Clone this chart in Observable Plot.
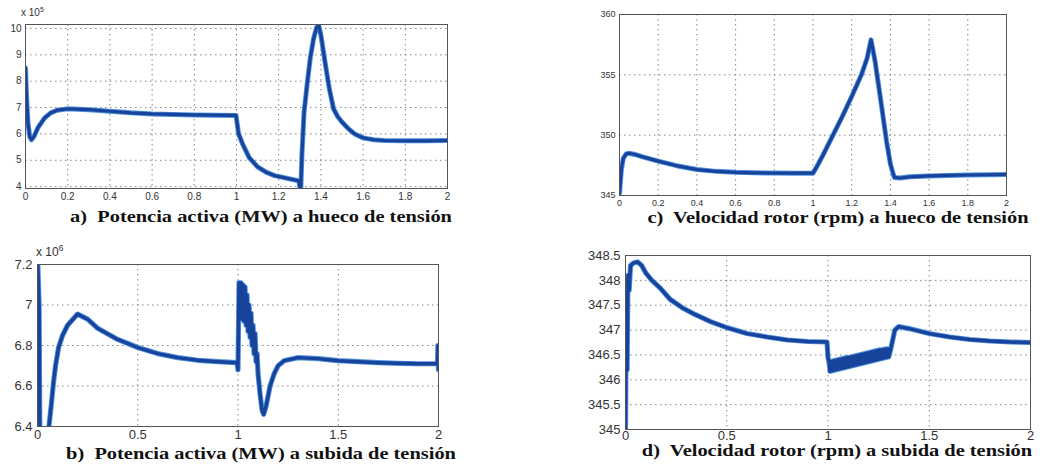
<!DOCTYPE html>
<html><head><meta charset="utf-8">
<script src="https://cdn.jsdelivr.net/npm/d3@7"></script>
<script src="https://cdn.jsdelivr.net/npm/@observablehq/plot@0.6"></script>
<style>
body{margin:0;background:#fff;}
#wrap{position:relative;width:1048px;height:464px;overflow:hidden;background:#fff;}
.panel{position:absolute;}
.cap{position:absolute;font-family:"Liberation Serif","DejaVu Serif",serif;font-weight:bold;font-size:17px;color:#111;white-space:pre;transform:translate(-50%,-50%) scaleX(1.2);}
.mult{position:absolute;font-family:"Liberation Sans",Arial,sans-serif;color:#333;white-space:nowrap;}
.mult sup{font-size:70%;}
</style></head><body><div id="wrap"></div>
<script>
// ---- Panel a: Potencia activa (x10^5) a hueco de tensión ----
const aT = [0,0.005,0.012,0.02,0.028,0.04,0.06,0.09,0.12,0.15,0.2,0.3,0.4,0.5,0.6,0.7,0.8,0.9,0.998,1.002,1.01,1.03,1.06,1.1,1.14,1.18,1.22,1.26,1.295,1.3,1.305,1.31,1.32,1.335,1.35,1.365,1.38,1.39,1.4,1.42,1.44,1.46,1.48,1.5,1.53,1.56,1.6,1.65,1.7,1.8,1.9,2.0];
const aP = [8.5,7.4,6.4,5.9,5.78,5.9,6.25,6.6,6.8,6.9,6.95,6.92,6.86,6.8,6.76,6.74,6.72,6.71,6.7,6.45,6.0,5.6,5.1,4.75,4.55,4.42,4.35,4.28,4.22,4.0,3.95,5.2,6.8,7.9,8.9,9.6,10.05,10.1,9.75,8.7,7.7,6.95,6.65,6.45,6.2,6.0,5.85,5.78,5.75,5.74,5.74,5.75];
const aXTicks = [0,0.2,0.4,0.6,0.8,1,1.2,1.4,1.6,1.8,2];
const aYTicks = [4,5,6,7,8,9,10];

// ---- Panel c: Velocidad rotor (rpm) a hueco de tensión ----
const cT = [0,0.01,0.02,0.035,0.05,0.08,0.12,0.2,0.3,0.4,0.5,0.6,0.7,0.8,0.9,1.0,1.02,1.05,1.1,1.15,1.2,1.25,1.28,1.3,1.32,1.35,1.38,1.4,1.42,1.45,1.5,1.6,1.7,1.8,1.9,2.0];
const cW = [345.2,347.2,348.1,348.45,348.5,348.4,348.2,347.85,347.45,347.15,347.0,346.92,346.88,346.86,346.85,346.85,347.4,348.3,349.9,351.5,353.2,355.0,356.4,357.9,356.2,352.9,349.5,347.6,346.5,346.45,346.55,346.62,346.66,346.7,346.72,346.74];
const cXTicks = [0,0.2,0.4,0.6,0.8,1,1.2,1.4,1.6,1.8,2];
const cYTicks = [345,350,355,360];

// ---- Panel b: Potencia activa (x10^6) a subida de tensión ----
const bT = [0,0.008,0.012,0.055,0.07,0.08,0.09,0.105,0.125,0.15,0.2,0.25,0.3,0.4,0.5,0.6,0.7,0.8,0.9,0.995,1.0,1.005,1.01,1.015,1.02,1.025,1.03,1.035,1.04,1.045,1.05,1.055,1.06,1.065,1.07,1.075,1.08,1.085,1.09,1.095,1.1,1.11,1.12,1.128,1.14,1.16,1.18,1.2,1.23,1.3,1.4,1.5,1.6,1.7,1.8,1.9,1.995,1.997,2.0];
const bP = [7.25,7.0,6.3,6.38,6.52,6.62,6.7,6.79,6.85,6.9,6.955,6.93,6.885,6.83,6.79,6.76,6.74,6.727,6.72,6.715,6.68,7.11,6.95,7.11,6.93,7.1,6.92,7.09,6.9,7.05,6.87,7.0,6.84,6.96,6.8,6.9,6.76,6.86,6.72,6.76,6.66,6.56,6.48,6.46,6.5,6.6,6.66,6.7,6.725,6.74,6.735,6.725,6.72,6.715,6.712,6.71,6.71,6.8,6.68];
const bXTicks = [0,0.5,1,1.5,2];
const bYTicks = [6.4,6.6,6.8,7,7.2];

// ---- Panel d: Velocidad rotor (rpm) a subida de tensión ----
const dT = [0,0.004,0.008,0.012,0.018,0.025,0.04,0.06,0.08,0.1,0.13,0.17,0.22,0.28,0.34,0.42,0.5,0.6,0.7,0.8,0.9,0.995,1.0,
  1.005,1.01,1.015,1.02,1.025,1.03,1.035,1.04,1.045,1.05,1.055,1.06,1.065,1.07,1.075,1.08,1.085,1.09,1.095,1.1,
  1.105,1.11,1.115,1.12,1.125,1.13,1.135,1.14,1.145,1.15,1.155,1.16,1.165,1.17,1.175,1.18,1.185,1.19,1.195,1.2,
  1.205,1.21,1.215,1.22,1.225,1.23,1.235,1.24,1.245,1.25,1.255,1.26,1.265,1.27,1.275,1.28,1.285,1.29,1.295,1.3,
  1.31,1.33,1.35,1.4,1.5,1.6,1.7,1.8,1.9,2.0];
const dW = [345.0,347.6,346.2,348.1,347.8,348.3,348.35,348.37,348.3,348.15,348.0,347.85,347.62,347.45,347.32,347.17,347.05,346.93,346.86,346.8,346.77,346.76,346.45,
  346.36,346.17,346.37,346.18,346.38,346.19,346.39,346.2,346.4,346.21,346.41,346.22,346.42,346.23,346.43,346.24,346.44,346.25,346.45,346.26,
  346.45,346.27,346.46,346.28,346.47,346.29,346.48,346.3,346.49,346.31,346.5,346.32,346.51,346.33,346.52,346.34,346.53,346.35,346.54,346.36,
  346.55,346.37,346.56,346.38,346.57,346.39,346.58,346.4,346.59,346.41,346.6,346.42,346.6,346.43,346.61,346.44,346.62,346.45,346.62,346.46,
  346.62,347.0,347.07,347.03,346.93,346.86,346.81,346.78,346.76,346.75];
const dXTicks = [0,0.5,1,1.5,2];
const dYTicks = [345,345.5,346,346.5,347,347.5,348,348.5];

const wrap = document.getElementById("wrap");
const fmt = d => String(d);

function panel(cfg) {
  const data = cfg.t.map((t, i) => ({t, v: cfg.v[i]}));
  const grid = {stroke: "#777", strokeOpacity: 0.9, strokeWidth: 1, strokeDasharray: "1.5,3.5"};
  const chart = Plot.plot({
    width: cfg.w, height: cfg.h,
    marginLeft: cfg.ml, marginRight: cfg.mr, marginTop: cfg.mt, marginBottom: cfg.mb,
    style: {fontFamily: '"Liberation Sans", Arial, sans-serif', fontSize: cfg.fs + "px", color: "#333", background: "transparent", overflow: "visible"},
    x: {domain: cfg.xd, ticks: cfg.xt, tickSize: 0, tickPadding: cfg.xpad, tickFormat: fmt, label: null},
    y: {domain: cfg.yd, ticks: cfg.yt, tickSize: 0, tickPadding: cfg.ypad, tickFormat: fmt, label: null},
    marks: [
      Plot.ruleX(cfg.xt.slice(1, -1), {...grid}),
      Plot.ruleY(cfg.yt, {...grid}),
      Plot.line(data, {x: "t", y: "v", stroke: "#4f8fe0", strokeWidth: cfg.sw + 1.8, clip: true, strokeLinejoin: "round"}),
      Plot.line(data, {x: "t", y: "v", stroke: "#17449a", strokeWidth: cfg.sw, clip: true, strokeLinejoin: "round"}),
      Plot.frame({stroke: "#555", strokeWidth: 1})
    ]
  });
  const div = document.createElement("div");
  div.className = "panel";
  div.style.left = cfg.left + "px";
  div.style.top = cfg.top + "px";
  div.appendChild(chart);
  wrap.appendChild(div);
}

function caption(text, x, y) {
  const d = document.createElement("div");
  d.className = "cap";
  d.style.left = x + "px";
  d.style.top = y + "px";
  d.textContent = text;
  wrap.appendChild(d);
}

function mult(exp, x, y, fs) {
  const d = document.createElement("div");
  d.className = "mult";
  d.style.left = x + "px";
  d.style.top = y + "px";
  d.style.fontSize = fs + "px";
  d.innerHTML = "x 10<sup>" + exp + "</sup>";
  wrap.appendChild(d);
}

panel({t: aT, v: aP, xd: [0, 2], yd: [3.93, 10.15], xt: aXTicks, yt: aYTicks,
  left: 0, top: 10, w: 460, h: 200, ml: 25, mr: 13, mt: 14, mb: 22, fs: 10, xpad: 4, ypad: 4, sw: 3.2});
panel({t: cT, v: cW, xd: [0, 2], yd: [345, 360], xt: cXTicks, yt: cYTicks,
  left: 560, top: 0, w: 488, h: 210, ml: 59, mr: 42, mt: 14, mb: 15, fs: 9, xpad: 4, ypad: 4, sw: 3.2});
panel({t: bT, v: bP, xd: [0, 2], yd: [6.4, 7.2], xt: bXTicks, yt: bYTicks,
  left: 0, top: 240, w: 460, h: 205, ml: 37, mr: 22, mt: 24, mb: 19, fs: 13, xpad: 3, ypad: 5, sw: 3.4});
panel({t: dT, v: dW, xd: [0, 2], yd: [345, 348.5], xt: dXTicks, yt: dYTicks,
  left: 560, top: 240, w: 488, h: 210, ml: 65, mr: 18, mt: 15, mb: 21, fs: 13, xpad: 1, ypad: 5, sw: 3.4});

mult(5, 21, 6, 10);
mult(6, 36, 243, 12);

caption("a)  Potencia activa (MW) a hueco de tensión", 261, 217);
caption("c)  Velocidad rotor (rpm) a hueco de tensión", 838, 218);
caption("b)  Potencia activa (MW) a subida de tensión", 261, 454);
caption("d)  Velocidad rotor (rpm) a subida de tensión", 837, 451);
</script></body></html>
